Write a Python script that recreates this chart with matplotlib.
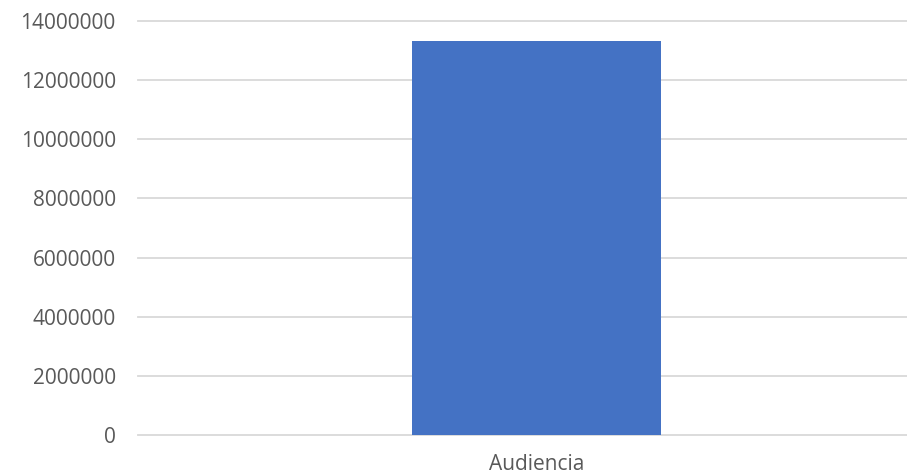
import matplotlib
matplotlib.use("Agg")
import matplotlib.pyplot as plt

categories = ["Audiencia"]
values = [13320000]
yticks = [0, 2000000, 4000000, 6000000, 8000000, 10000000, 12000000, 14000000]

plt.rcParams['font.family'] = ['Open Sans', 'DejaVu Sans']

fig = plt.figure(figsize=(9.07, 4.76), dpi=100)
ax = fig.add_axes([138 / 907, 41 / 476, 769 / 907, 414 / 476])

ax.bar(categories, values, width=0.8, color="#4472C4", zorder=3)

ax.set_ylim(0, 14000000)
ax.set_xlim(-1.28, 1.19)
ax.set_yticks(yticks)
ax.set_yticklabels([str(v) for v in yticks])
ax.grid(axis="y", color="#d9d9d9", linewidth=1.3, zorder=0)
for gl in ax.get_ygridlines():
    gl.set_clip_on(False)
for s in ax.spines.values():
    s.set_visible(False)
ax.tick_params(axis="both", length=0, labelsize=15, colors="#595959")
ax.tick_params(axis="x", pad=14)
ax.tick_params(axis="y", pad=16)

fig.savefig("out.png", dpi=100)
